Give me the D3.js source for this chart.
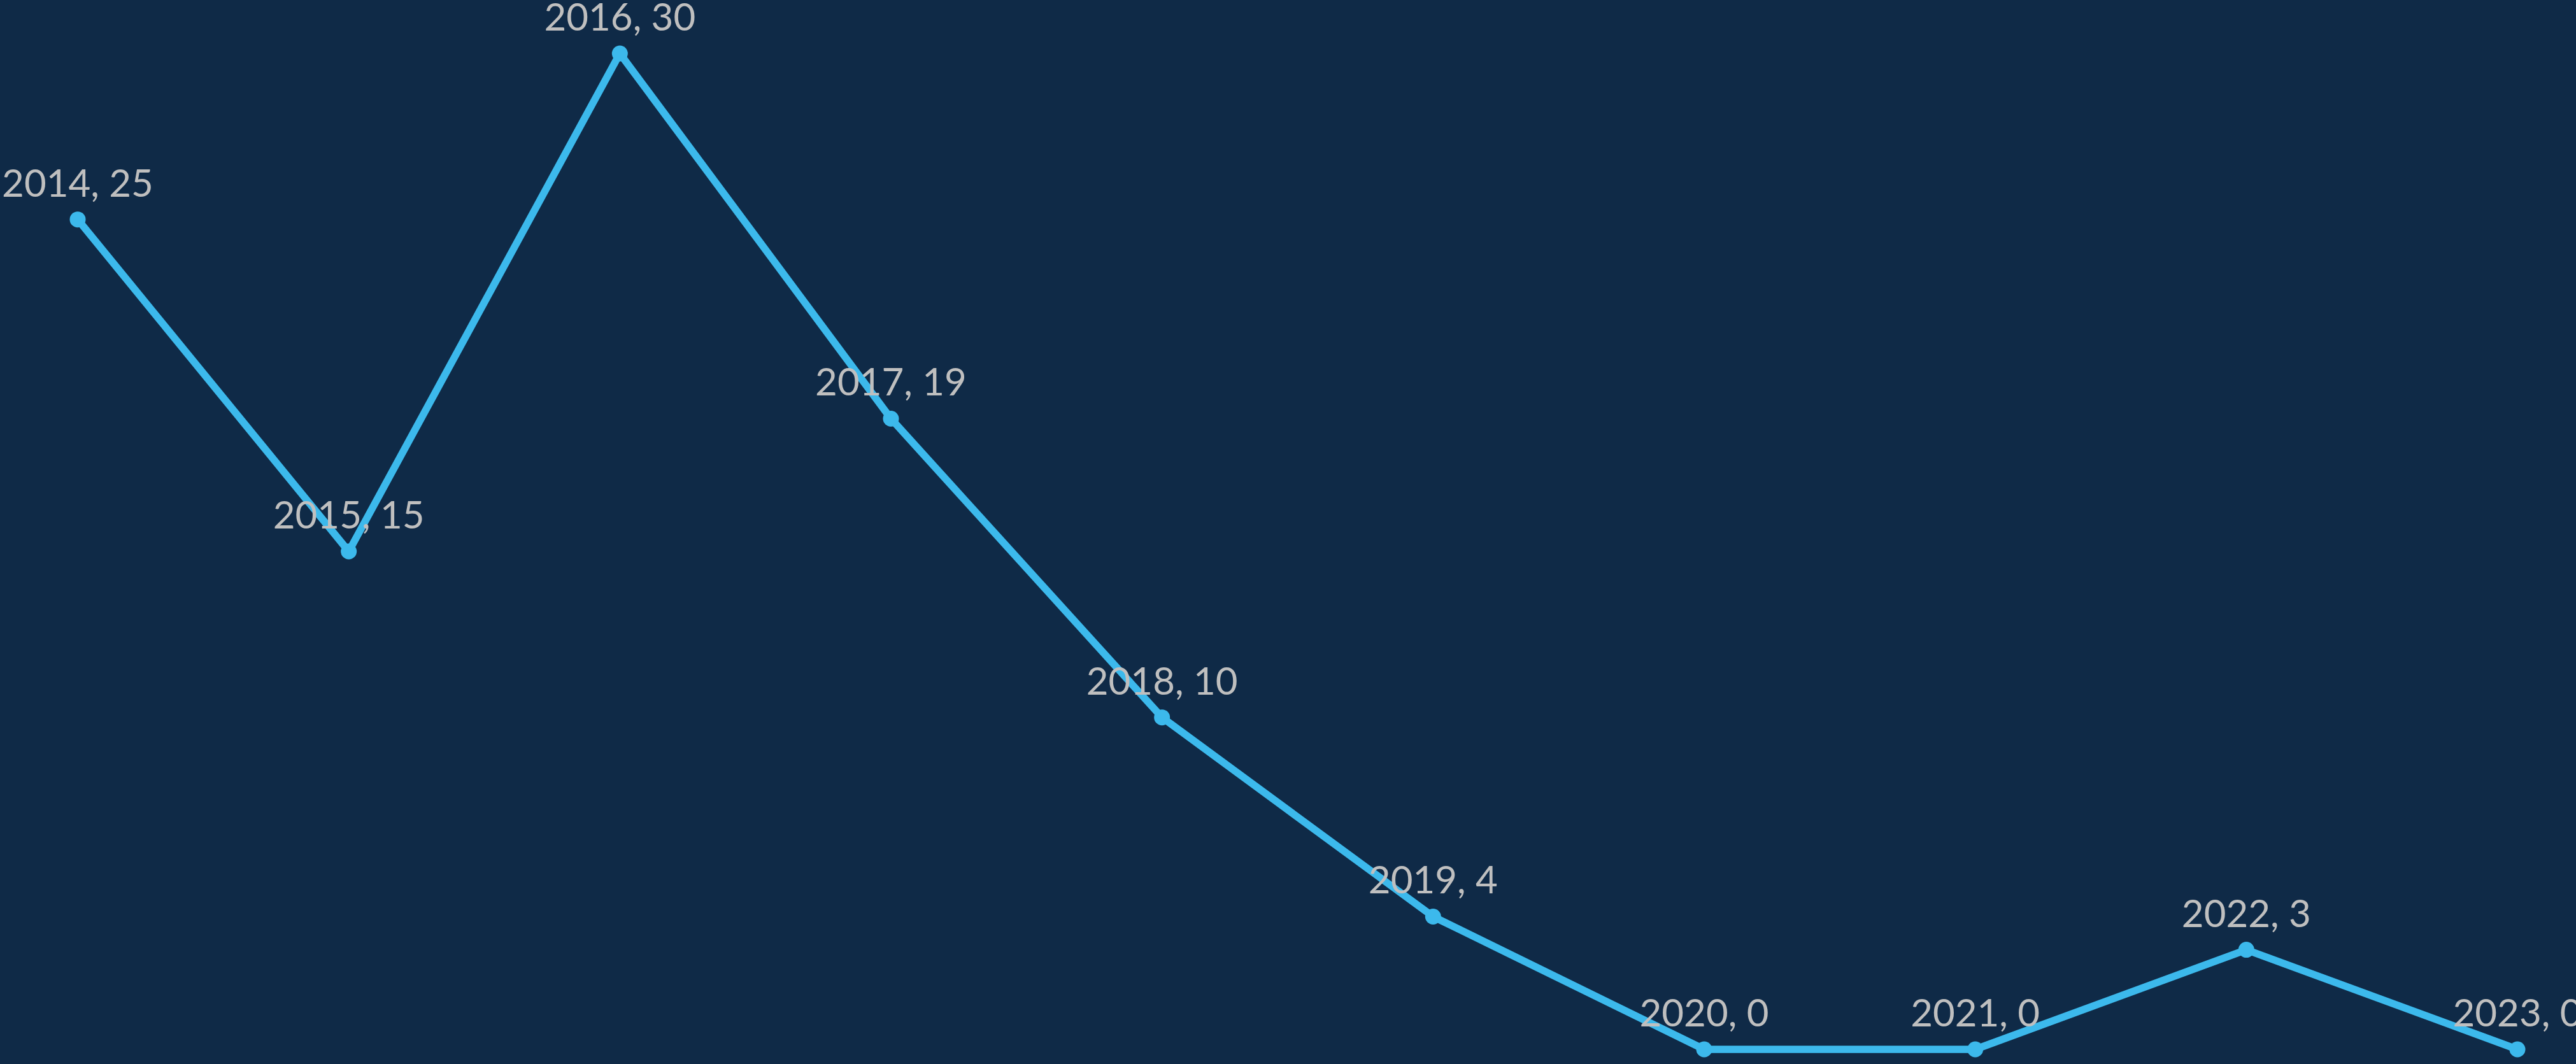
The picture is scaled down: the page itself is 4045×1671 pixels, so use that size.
<!DOCTYPE html>
<html>
<head>
<meta charset="utf-8">
<script src="https://cdn.jsdelivr.net/npm/d3@7"></script>
<style>
  html, body { margin: 0; padding: 0; background: #0f2a47; overflow: hidden; }
  svg { display: block; }
</style>
</head>
<body>
<script>
// Yearly counts, 2014–2023
const years = ["2014", "2015", "2016", "2017", "2018", "2019", "2020", "2021", "2022", "2023"];
const values = [25, 15, 30, 19, 10, 4, 0, 0, 3, 0];

const W = 4045, H = 1671;
const svg = d3.select("body").append("svg")
  .attr("width", W).attr("height", H);

svg.append("rect").attr("width", W).attr("height", H).attr("fill", "#0f2a47");

const x = d3.scalePoint().domain(years).range([122, 3953]);
const y = d3.scaleLinear().domain([0, 30]).range([1648, 84]);

const data = years.map((yr, i) => ({ year: yr, value: values[i] }));

const line = d3.line().x(d => x(d.year)).y(d => y(d.value));

svg.append("path")
  .datum(data)
  .attr("d", line)
  .attr("fill", "none")
  .attr("stroke", "#3cb9ec")
  .attr("stroke-width", 11.5)
  .attr("stroke-linejoin", "round");

svg.selectAll("circle.pt")
  .data(data)
  .join("circle")
  .attr("class", "pt")
  .attr("cx", d => x(d.year))
  .attr("cy", d => y(d.value))
  .attr("r", 12.5)
  .attr("fill", "#3cb9ec");

svg.selectAll("text.lbl")
  .data(data)
  .join("text")
  .attr("class", "lbl")
  .attr("x", d => x(d.year))
  .attr("y", d => y(d.value) - 36)
  .attr("text-anchor", "middle")
  .attr("font-family", "Lato, 'Open Sans', sans-serif")
  .attr("font-size", 60)
  .attr("fill", "#bfbfbf")
  .text(d => `${d.year}, ${d.value}`);
</script>
</body>
</html>
